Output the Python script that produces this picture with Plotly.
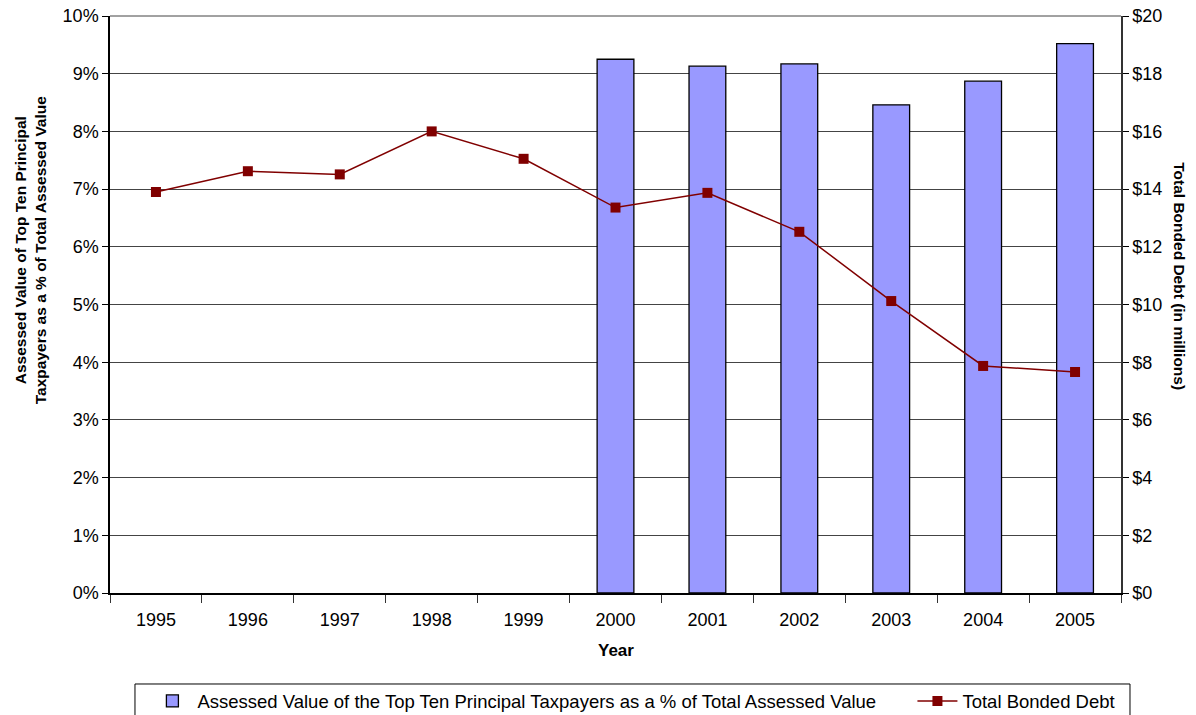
import plotly.graph_objects as go

years = ["1995", "1996", "1997", "1998", "1999", "2000", "2001", "2002", "2003", "2004", "2005"]
top_ten_pct = [None, None, None, None, None, 0.0925, 0.0913, 0.0917, 0.0846, 0.0887, 0.0952]
bonded_debt = [13.90, 14.62, 14.51, 16.00, 15.05, 13.36, 13.87, 12.52, 10.12, 7.87, 7.66]

font_family = "Liberation Sans, Arial, sans-serif"

fig = go.Figure()
fig.add_trace(go.Bar(
    x=years, y=top_ten_pct,
    name="Assessed Value of the Top Ten Principal Taxpayers as a % of Total Assessed Value",
    marker=dict(color="#9999FF", line=dict(color="black", width=1.3)),
    width=0.4,
    yaxis="y",
    legend="legend",
))
fig.add_trace(go.Scatter(
    x=years, y=bonded_debt,
    name="Total Bonded Debt",
    mode="lines+markers",
    line=dict(color="#800000", width=1.5),
    marker=dict(symbol="square", size=10, color="#800000"),
    yaxis="y2",
    legend="legend2",
))

legend_common = dict(
    orientation="h", xanchor="left", y=-0.155, yanchor="top",
    bgcolor="rgba(0,0,0,0)", borderwidth=0, font=dict(size=18.5),
    itemwidth=40,
)

fig.update_layout(
    width=1196, height=715,
    margin=dict(l=110, r=75, t=16, b=122, autoexpand=False),
    paper_bgcolor="white", plot_bgcolor="white",
    font=dict(family=font_family, size=18, color="black"),
    showlegend=True,
    legend=dict(x=0.037, **legend_common),
    legend2=dict(x=0.7937, **legend_common),
    xaxis=dict(
        type="category", range=[-0.5, 10.5], tickson="boundaries", ticks="outside", ticklen=8,
        tickcolor="#333333", showline=True, linecolor="black", linewidth=1.5,
        showgrid=False, tickfont=dict(size=18), automargin=False,
        ticklabelstandoff=10, ticklabeloverflow="allow",
    ),
    yaxis=dict(
        range=[0, 0.10], dtick=0.01, tickformat=".0%", ticks="outside", ticklen=6,
        tickcolor="black", showline=True, linecolor="black", linewidth=1.5,
        showgrid=True, gridcolor="#444444", gridwidth=1, zeroline=False,
        tickfont=dict(size=18), automargin=False, ticklabeloverflow="allow",
    ),
    yaxis2=dict(
        range=[0, 20], dtick=2, tickprefix="$", ticks="outside", ticklen=6,
        tickcolor="black", overlaying="y", side="right", showline=True,
        linecolor="#333333", linewidth=1.5, showgrid=False, zeroline=False,
        tickfont=dict(size=18), automargin=False, ticklabeloverflow="allow",
    ),
    shapes=[
        dict(type="line", xref="paper", yref="paper", x0=0, x1=1, y0=1, y1=1,
             line=dict(color="#444444", width=1)),
        dict(type="rect", xref="paper", yref="paper", x0=0.0247, x1=1.0089,
             y0=-0.1577, y1=-0.35, line=dict(color="black", width=1),
             fillcolor="rgba(0,0,0,0)", layer="below"),
    ],
    annotations=[
        dict(text="<b>Assessed Value of Top Ten Principal<br>Taxpayers as a % of Total Assessed Value</b>",
             xref="paper", yref="paper", x=0, y=0.594, xshift=-80, textangle=-90,
             showarrow=False, font=dict(size=15.5), xanchor="center", yanchor="middle"),
        dict(text="<b>Total Bonded Debt (in millions)</b>",
             xref="paper", yref="paper", x=1, y=0.549, xshift=59, textangle=90,
             showarrow=False, font=dict(size=15.5), xanchor="center", yanchor="middle"),
        dict(text="<b>Year</b>",
             xref="paper", yref="paper", x=0.5, y=-0.0988,
             showarrow=False, font=dict(size=17), xanchor="center", yanchor="middle"),
    ],
)

fig.write_html("out.html", config={"displayModeBar": False},
               post_script="document.body.style.margin='0px';")
